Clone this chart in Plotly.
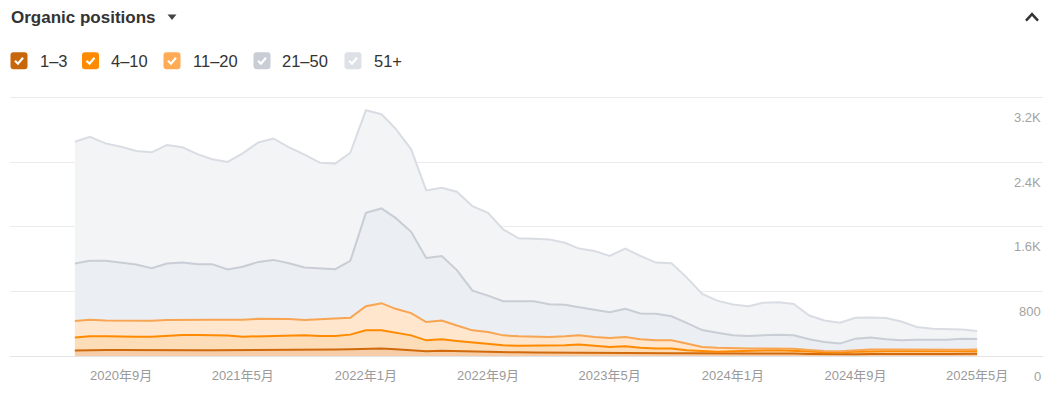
import plotly.graph_objects as go
import pandas as pd

months = pd.date_range("2020-06-01", "2025-05-01", freq="MS")

pos_1_3 = [68, 75, 75, 74, 72, 70, 70, 72, 72, 72, 72, 72, 74, 76, 78, 78, 80, 80, 84, 92,
           92, 84, 71, 59, 64, 59, 52, 50, 48, 45, 43, 43, 43, 43, 42, 40, 40, 38, 36, 35,
           33, 30, 28, 28, 30, 30, 32, 30, 26, 22, 20, 22, 26, 28, 28, 26, 26, 26, 27, 28]
pos_4_10 = [160, 169, 169, 164, 166, 168, 179, 189, 189, 189, 182, 168, 170, 180, 178, 178, 169, 169, 181, 226,
            226, 202, 185, 135, 143, 128, 114, 104, 85, 81, 85, 83, 90, 99, 84, 73, 81, 63, 56, 57,
            38, 29, 24, 31, 38, 38, 38, 36, 29, 26, 25, 30, 32, 32, 32, 32, 32, 30, 31, 32]
pos_11_20 = [205, 205, 197, 199, 199, 199, 196, 188, 188, 188, 195, 209, 218, 206, 202, 191, 204, 213, 209, 300,
             337, 299, 276, 227, 234, 192, 152, 144, 123, 118, 112, 110, 111, 114, 110, 111, 115, 106, 102, 102,
             83, 54, 49, 33, 24, 24, 25, 24, 20, 14, 13, 18, 22, 22, 20, 20, 20, 20, 20, 20]
pos_21_50 = [714, 731, 739, 722, 698, 652, 702, 710, 690, 690, 624, 657, 705, 730, 693, 651, 636, 615, 706, 1157,
             1175, 1128, 1008, 794, 799, 687, 492, 451, 424, 434, 438, 406, 392, 350, 338, 320, 349, 321, 329, 298,
             256, 209, 188, 164, 157, 168, 170, 166, 132, 113, 96, 145, 148, 125, 114, 125, 125, 127, 137, 132]
pos_51_plus = [1510, 1538, 1457, 1436, 1407, 1437, 1469, 1429, 1362, 1301, 1334, 1408, 1482, 1506, 1437, 1399, 1309, 1309, 1341, 1272,
               1168, 1108, 1023, 838, 847, 971, 1047, 1026, 890, 781, 777, 804, 769, 726, 728, 697, 747, 713, 636, 659,
               565, 447, 398, 382, 369, 400, 402, 390, 295, 266, 258, 259, 250, 263, 234, 156, 136, 136, 115, 98]

series_names = ["1–3", "4–10", "11–20", "21–50", "51+"]
series_values = [pos_1_3, pos_4_10, pos_11_20, pos_21_50, pos_51_plus]
line_colors = ["#d06a0c", "#ff8a00", "#f7a552", "#c9ced6", "#d9dde3"]
fill_colors = ["#f6cda6", "#fddcb8", "#ffe6cc", "#ebeef2", "#f3f4f6"]
box_colors = ["#c8660a", "#ff8a00", "#ffab55", "#c9ced6", "#dde0e5"]

x_tick_vals = ["2020-09-01", "2021-05-01", "2022-01-01", "2022-09-01", "2023-05-01",
               "2024-01-01", "2024-09-01", "2025-05-01"]
x_tick_text = ["2020年9月", "2021年5月", "2022年1月", "2022年9月", "2023年5月",
               "2024年1月", "2024年9月", "2025年5月"]
y_tick_vals = [0, 800, 1600, 2400, 3200]
y_tick_text = ["0", "800", "1.6K", "2.4K", "3.2K"]

W, H = 1053, 393
ML, MR, MT, MB = 10, 10, 95, 35
PW, PH = W - ML - MR, H - MT - MB
Y_TOP = 3200 * PH / (H - MB - 98)


def px(xp):
    return (xp - ML) / PW


def py(yp):
    return (H - MB - yp) / PH


fig = go.Figure()
for name, vals, lc, fc in zip(series_names, series_values, line_colors, fill_colors):
    fig.add_trace(go.Scatter(
        x=months, y=vals, name=name, mode="lines", stackgroup="one",
        line=dict(color=lc, width=2), fillcolor=fc, showlegend=False,
    ))

FONT = "Liberation Sans, Arial, Noto Sans CJK SC, sans-serif"

shapes = []
annotations = []

# title + caret + collapse chevron
annotations.append(dict(text="<b>Organic positions</b>", x=px(9), y=py(16.5), xref="paper", yref="paper",
                        xanchor="left", yanchor="middle", showarrow=False,
                        font=dict(family=FONT, size=17, color="#333333")))
shapes.append(dict(type="path", xref="paper", yref="paper",
                   path=f"M {px(167.5)},{py(14)} L {px(176.5)},{py(14)} L {px(172)},{py(19.5)} Z",
                   fillcolor="#444444", line=dict(width=0)))
shapes.append(dict(type="path", xref="paper", yref="paper",
                   path=f"M {px(1026)},{py(20)} L {px(1032)},{py(13.5)} L {px(1038)},{py(20)}",
                   line=dict(color="#333333", width=2.5)))

# checkbox legend
box_lefts = [10.5, 82, 163.5, 253.5, 344.5]
label_lefts = [37.5, 108.5, 190.5, 279.5, 371.5]
top, size, r = 52, 17, 3
for bl, ll, bc, name in zip(box_lefts, label_lefts, box_colors, series_names):
    L, T, R, B = bl, top, bl + size, top + size
    path = (f"M {px(L + r)},{py(T)} L {px(R - r)},{py(T)} Q {px(R)},{py(T)} {px(R)},{py(T + r)} "
            f"L {px(R)},{py(B - r)} Q {px(R)},{py(B)} {px(R - r)},{py(B)} "
            f"L {px(L + r)},{py(B)} Q {px(L)},{py(B)} {px(L)},{py(B - r)} "
            f"L {px(L)},{py(T + r)} Q {px(L)},{py(T)} {px(L + r)},{py(T)} Z")
    shapes.append(dict(type="path", xref="paper", yref="paper", path=path,
                       fillcolor=bc, line=dict(width=0)))
    shapes.append(dict(type="path", xref="paper", yref="paper",
                       path=f"M {px(L + 4.5)},{py(T + 8.5)} L {px(L + 7.5)},{py(T + 11.5)} L {px(L + 12.5)},{py(T + 5.5)}",
                       line=dict(color="white", width=2.2)))
    annotations.append(dict(text=name, x=px(ll), y=py(60.5), xref="paper", yref="paper",
                            xanchor="left", yanchor="middle", showarrow=False,
                            font=dict(family=FONT, size=16.5, color="#333333")))

# y tick labels sit just below their gridlines, at the right edge
for v, t in zip(y_tick_vals, y_tick_text):
    annotations.append(dict(text=t, x=1, y=v, xref="paper", yref="y", xanchor="right", yanchor="middle",
                            yshift=-20, showarrow=False,
                            font=dict(family=FONT, size=13, color="#a3a3a3")))

fig.update_layout(
    width=W, height=H,
    margin=dict(l=ML, r=MR, t=MT, b=MB),
    paper_bgcolor="white", plot_bgcolor="white",
    shapes=shapes, annotations=annotations,
    hovermode="x unified",
    xaxis=dict(
        type="date",
        range=["2020-01-24", "2025-09-09"],
        tickvals=x_tick_vals, ticktext=x_tick_text,
        showgrid=False, zeroline=False, showline=False, ticks="",
        ticklabelstandoff=10,
        tickfont=dict(family="Liberation Sans, Noto Sans CJK SC, sans-serif", size=13, color="#9a9a9a"),
        fixedrange=True,
    ),
    yaxis=dict(
        side="right",
        range=[0, Y_TOP],
        tickvals=y_tick_vals, showticklabels=False,
        showgrid=True, gridcolor="#ebebeb", gridwidth=1,
        zeroline=True, zerolinecolor="#e3e3e3", zerolinewidth=1,
        showline=False, ticks="",
        fixedrange=True,
    ),
)

fig.write_html("out.html", config={"displayModeBar": False},
               post_script="document.body.style.margin='0px';")
